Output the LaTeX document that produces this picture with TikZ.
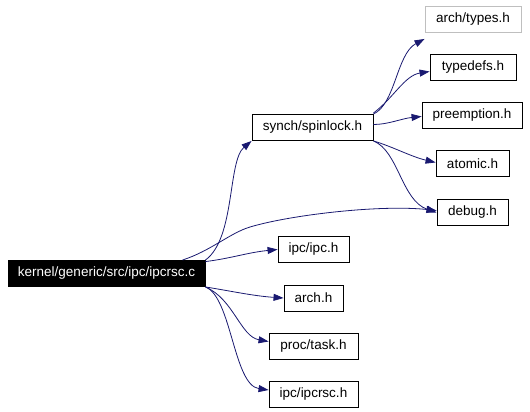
\documentclass[tikz,border=0pt]{standalone}
\usepackage{fontspec}
\setmainfont{Liberation Sans}
\usetikzlibrary{arrows.meta}
\definecolor{edgeblue}{HTML}{191970}
\definecolor{lightframe}{HTML}{BFBFBF}

\begin{document}
\begin{tikzpicture}[x=1pt,y=-1pt,
    font=\fontsize{13.5}{16}\selectfont,
    file/.style={draw,line width=0.9pt,inner sep=0pt,minimum height=26pt},
    incl/.style={draw=edgeblue,line width=0.8pt,-{Triangle[length=10pt,width=7pt]}}]
  % Parameters
  \def\mx{313.5}  % middle column
  \def\rx{472.5}  % right column

  % Page size (pixels of the graph)
  \useasboundingbox (0,0) rectangle (530,412);

  % Root file
  \node[file,fill=black,text=white,minimum width=197pt] (root) at (106.5,273.5) {kernel/generic/src/ipc/ipcrsc.c};

  % Files included by the root
  \node[file,minimum width=121pt] (spinlock) at (312.5,127.5) {synch/spinlock.h};
  \node[file,minimum width=71pt]  (ipc)      at (\mx,249.5) {ipc/ipc.h};
  \node[file,minimum width=59pt]  (arch)     at (\mx,298)   {arch.h};
  \node[file,minimum width=89pt]  (task)     at (\mx,346.5) {proc/task.h};
  \node[file,minimum width=89pt]  (ipcrsc)   at (\mx,394)   {ipc/ipcrsc.h};

  % Files included by spinlock.h
  \node[file,draw=lightframe,minimum width=96pt] (types) at (473,19.5) {arch/types.h};
  \node[file,minimum width=86pt]  (typedefs)   at (473,67.5)  {typedefs.h};
  \node[file,minimum width=100pt] (preemption) at (472,115.5) {preemption.h};
  \node[file,minimum width=73pt]  (atomic)     at (\rx,163.5) {atomic.h};
  \node[file,minimum width=71pt]  (debug)      at (\rx,212.5) {debug.h};

  % Edges from the root
  \draw[incl] (root.north east) .. controls +(30,-22) and +(-24,20) .. (spinlock.south west);
  \draw[incl] ([xshift=-23pt]root.north east) .. controls +(28,-9) and +(-20,6) .. (250,227)
              .. controls +(40,-12) and +(-57,-6) .. ([yshift=2pt]debug.west);
  \draw[incl] ([yshift=-1.5pt]root.north east) .. controls +(25,-3) and +(-30,3) .. (ipc.west);
  \draw[incl] (root.south east) .. controls +(25,4) and +(-30,-2) .. (arch.west);
  \draw[incl] (root.south east) .. controls +(28,12) and +(-28,-5) .. ([yshift=5pt]task.west);
  \draw[incl] (root.south east) .. controls +(26,10) and +(-35,-5) .. ([yshift=4pt]ipcrsc.west);

  % Edges from spinlock.h
  \draw[incl] (spinlock.north east) .. controls +(22,-10) and +(-28,15) .. ([yshift=-6pt]types.south west);
  \draw[incl] ([yshift=1pt]spinlock.north east) .. controls +(20,-15) and +(-25,4) .. ([yshift=-4pt]typedefs.west);
  \draw[incl] ([yshift=3pt]spinlock.east) .. controls +(15,0) and +(-20,2) .. ([yshift=-1pt]preemption.west);
  \draw[incl] (spinlock.south east) .. controls +(20,6) and +(-25,-6) .. ([yshift=1pt]atomic.west);
  \draw[incl] (spinlock.south east) .. controls +(25,10) and +(-35,-12) .. (debug.west);
\end{tikzpicture}
\end{document}
